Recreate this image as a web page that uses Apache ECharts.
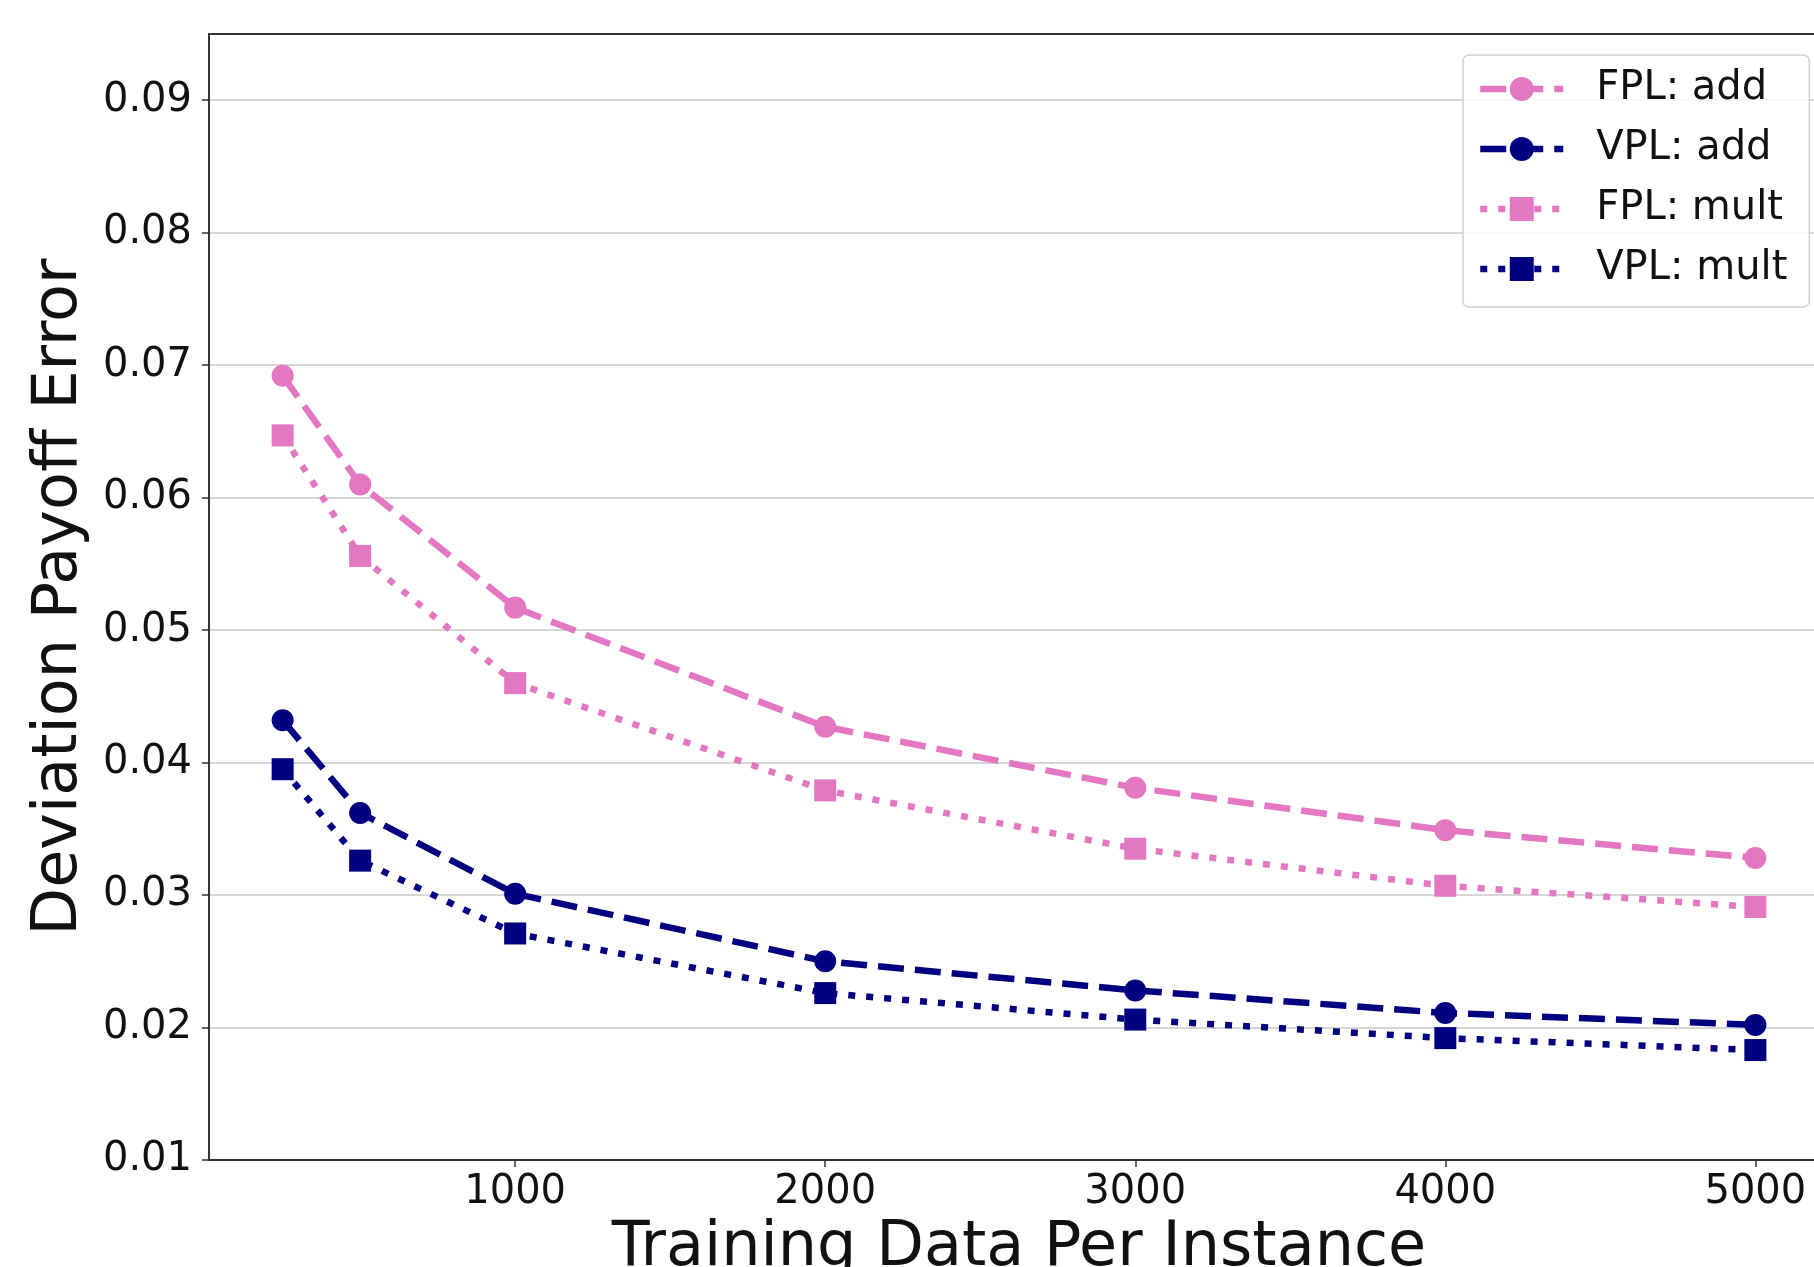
<!DOCTYPE html>
<html>
<head>
<meta charset="utf-8">
<script src="https://cdn.jsdelivr.net/npm/echarts@6/dist/echarts.min.js"></script>
<style>
    html, body { margin: 0; padding: 0; background: #fff; }
    #chart { width: 1814px; height: 1267px; }
</style>
</head>
<body>
<div id="chart"></div>
<script>
// training data sizes on the x axis
const trainingSizes = [250, 500, 1000, 2000, 3000, 4000, 5000];

// deviation payoff error per series
const fplAdd = [0.0692, 0.0610, 0.0517, 0.0427, 0.0381, 0.0349, 0.0328];
const vplAdd = [0.0432, 0.0362, 0.0301, 0.0250, 0.0228, 0.0211, 0.0202];
const fplMult = [0.0647, 0.0556, 0.0460, 0.0379, 0.0335, 0.0307, 0.0291];
const vplMult = [0.0395, 0.0326, 0.0271, 0.0226, 0.0206, 0.0192, 0.0183];

// tick labels
const xTicks = [1000, 2000, 3000, 4000, 5000];
const yTicks = [0.01, 0.02, 0.03, 0.04, 0.05, 0.06, 0.07, 0.08, 0.09];

const PINK = '#e377c2';
const NAVY = '#000080';
const FONT = 'DejaVu Sans';
const DASHED = [26, 11];
const DOTTED = [7, 11];
const LINE_W = 6.5;
const TICK_FONT = 40;
const TITLE_FONT = 62;

const pairs = (ys) => trainingSizes.map((x, i) => [x, ys[i]]);

const makeSeries = (name, ys, color, symbol, dash) => ({
    name: name,
    type: 'line',
    data: pairs(ys),
    symbol: symbol,
    symbolSize: 22,
    showSymbol: true,
    itemStyle: { color: color },
    lineStyle: { color: color, width: LINE_W, type: dash },
    emphasis: { disabled: true },
    animation: false
});

// legend entries, thick lines like the plot
const legendItem = (name, dash) => ({
    name: name,
    lineStyle: { width: LINE_W, type: dash }
});

const chart = echarts.init(document.getElementById('chart'), null, { renderer: 'canvas' });

const option = {
    backgroundColor: '#fff',
    animation: false,
    textStyle: { fontFamily: FONT },
    grid: {
        left: 209,
        top: 34,
        bottom: 107,
        right: -15,
        outerBoundsMode: 'none',
        containLabel: false,
        show: true,
        borderColor: '#333',
        borderWidth: 2,
        backgroundColor: 'transparent'
    },
    legend: {
        left: 1463,
        top: 55,
        orient: 'vertical',
        itemWidth: 83,
        itemHeight: 30,
        itemGap: 20,
        padding: [14, 22, 18, 14],
        backgroundColor: 'rgba(255,255,255,0.85)',
        borderColor: '#d0d0d0',
        borderWidth: 1.5,
        borderRadius: 6,
        textStyle: {
            fontFamily: FONT,
            fontSize: TICK_FONT,
            color: '#111',
            padding: [0, 0, 0, 28]
        },
        data: [
            legendItem('FPL: add', DASHED),
            legendItem('VPL: add', DASHED),
            legendItem('FPL: mult', DOTTED),
            legendItem('VPL: mult', DOTTED)
        ]
    },
    xAxis: {
        type: 'value',
        min: 12.5,
        max: 5237.5,
        name: 'Training Data Per Instance',
        nameLocation: 'middle',
        nameGap: 56,
        nameTextStyle: { fontFamily: FONT, fontSize: TITLE_FONT, color: '#111' },
        axisLine: { show: true, lineStyle: { color: '#333', width: 2 } },
        axisTick: {
            show: true,
            inside: false,
            length: 7,
            customValues: xTicks,
            lineStyle: { color: '#333', width: 1.5 }
        },
        axisLabel: {
            customValues: xTicks,
            margin: 13,
            fontFamily: FONT,
            fontSize: TICK_FONT,
            color: '#111',
            formatter: (v) => String(v)
        },
        splitLine: { show: false }
    },
    yAxis: {
        type: 'value',
        min: 0.01,
        max: 0.095,
        interval: 0.01,
        name: 'Deviation Payoff Error',
        nameLocation: 'middle',
        nameRotate: 90,
        nameGap: 118,
        nameTextStyle: { fontFamily: FONT, fontSize: TITLE_FONT, color: '#111' },
        axisLine: { show: true, lineStyle: { color: '#333', width: 2 } },
        axisTick: {
            show: true,
            inside: false,
            length: 7,
            customValues: yTicks,
            lineStyle: { color: '#333', width: 1.5 }
        },
        axisLabel: {
            customValues: yTicks,
            margin: 17,
            fontFamily: FONT,
            fontSize: TICK_FONT,
            color: '#111',
            formatter: (v) => v.toFixed(2)
        },
        splitLine: { show: true, lineStyle: { color: '#c8c8c8', width: 1.5 } }
    },
    series: [
        makeSeries('FPL: add', fplAdd, PINK, 'circle', DASHED),
        makeSeries('VPL: add', vplAdd, NAVY, 'circle', DASHED),
        makeSeries('FPL: mult', fplMult, PINK, 'rect', DOTTED),
        makeSeries('VPL: mult', vplMult, NAVY, 'rect', DOTTED)
    ]
};

chart.setOption(option);
</script>
</body>
</html>
